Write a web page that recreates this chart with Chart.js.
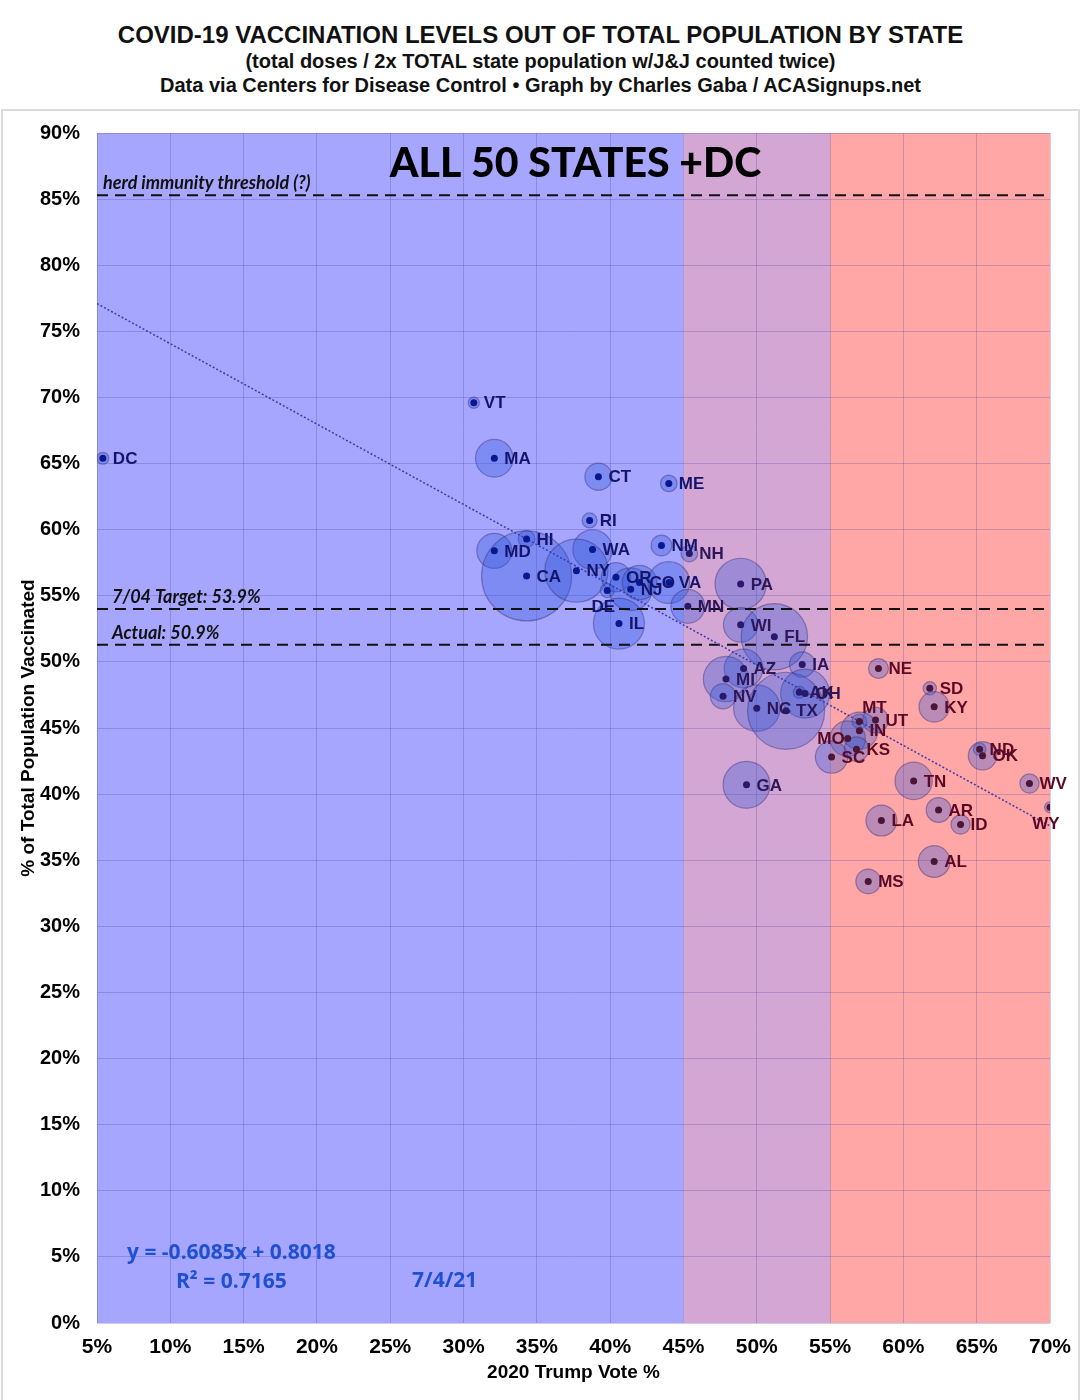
<!DOCTYPE html>
<html>
<head>
<meta charset="utf-8">
<script src="https://cdn.jsdelivr.net/npm/chart.js@4.4.0/dist/chart.umd.min.js"></script>
<style>
body{margin:0;background:#fff;width:1081px;height:1400px;overflow:hidden}
.t{position:absolute;left:0;width:1081px;text-align:center;font-family:'Liberation Sans Narrow','Liberation Sans',Arial,sans-serif;font-weight:bold;color:#111;white-space:nowrap}
#frame{position:absolute;left:1px;top:109px;width:1075px;height:1300px;border:2px solid #dcdcdc}
#c{position:absolute;left:0;top:0}
</style>
</head>
<body>
<div class="t" style="top:21px;font-size:24px;line-height:28px">COVID-19 VACCINATION LEVELS OUT OF TOTAL POPULATION BY STATE</div>
<div class="t" style="top:50px;font-size:20px;line-height:22px">(total doses / 2x TOTAL state population w/J&amp;J counted twice)</div>
<div class="t" style="top:74px;font-size:20px;line-height:22px">Data via Centers for Disease Control • Graph by Charles Gaba / ACASignups.net</div>
<div id="frame"></div>
<canvas id="c" width="1081" height="1400"></canvas>
<script>
const states=['DC','VT','MA','CT','ME','RI','HI','MD','WA','NM','NH','CA','NY','DE','OR','NJ','CO','VA','MN','IL','PA','WI','FL','IA','AZ','MI','OH','AK','NV','NC','TX','GA','NE','SD','KY','MT','UT','IN','MO','KS','SC','ND','OK','TN','WV','WY','AR','ID','LA','AL','MS'];
const trumpVote=[5.4,30.7,32.1,39.2,44.0,38.6,34.3,32.1,38.8,43.5,45.4,34.3,37.7,39.8,40.4,41.4,42.0,44.0,45.3,40.6,48.9,48.9,51.2,53.1,49.1,47.9,53.3,52.9,47.7,50.0,52.0,49.3,58.3,61.8,62.1,57.0,58.1,57.0,56.2,56.8,55.1,65.2,65.4,60.7,68.6,70.0,62.4,63.9,58.5,62.1,57.6];
const vaccinated=[65.4,69.6,65.4,64.0,63.5,60.7,59.3,58.4,58.5,58.8,58.2,56.5,56.9,55.4,56.4,55.5,56.0,56.0,54.2,52.9,55.9,52.8,51.9,49.8,49.5,48.7,47.6,47.7,47.4,46.5,46.3,40.7,49.5,48.0,46.6,45.5,45.6,44.8,44.2,43.4,42.8,43.4,42.9,41.0,40.8,39.0,38.8,37.7,38.0,34.9,33.4];
// population in millions, sets bubble area
const population=[0.7,0.62,6.9,3.6,1.35,1.1,1.4,6.0,7.6,2.1,1.36,39.5,19.5,0.97,4.2,8.9,5.8,8.5,5.6,12.7,12.8,5.8,21.5,3.15,7.3,10.0,11.7,0.73,3.1,10.5,29.0,10.7,1.93,0.88,4.5,1.07,3.2,6.7,6.1,2.9,5.1,0.76,3.95,6.8,1.8,0.58,3.0,1.8,4.65,4.9,2.97];
const trendX=[5,70];
const trendY=[77.1,37.6];
const refLevels=[85.3,54.0,51.3];
const refTexts=['herd immunity threshold (?)','7/04 Target: 53.9%','Actual: 50.9%'];
const zoneEdges=[5,45,55,70];
const zoneColors=['#a6a6ff','#d4a6d4','#ffa6a6'];

const labelPlace={MO:'left',DE:'below',WY:'below',MT:'above'};
const inkFor=v=>v<45?'#14146c':v<55?'#2c1658':'#5a0a26';
const dotFor=v=>v<45?'#0a1890':v<55?'#281a6a':'#4a1636';

const zones={id:'zones',beforeDraw(chart){
  const {ctx,chartArea:a,scales:{x}}=chart;
  ctx.save();
  for(let i=0;i<zoneColors.length;i++){
    const x0=x.getPixelForValue(zoneEdges[i]),x1=x.getPixelForValue(zoneEdges[i+1]);
    ctx.fillStyle=zoneColors[i];ctx.fillRect(x0,a.top,x1-x0,a.bottom-a.top);
  }
  ctx.restore();
}};

const texts={id:'texts',afterDatasetsDraw(chart){
  const {ctx,chartArea:a,scales:{x,y}}=chart;
  ctx.save();
  ctx.textBaseline='middle';
  // state labels
  ctx.font='bold 17px "Liberation Sans", Arial, sans-serif';
  states.forEach((s,i)=>{
    const px=x.getPixelForValue(trumpVote[i]),py=y.getPixelForValue(vaccinated[i]);
    const p=labelPlace[s]||'right';
    let tx=px+10,ty=py+1,al='left';
    if(p==='left'){tx=px-3;al='right';}
    if(p==='below'){tx=px-4;ty=py+17;al='center';}
    if(p==='above'){tx=px+15;ty=py-13;al='center';}
    ctx.textAlign=al;
    ctx.fillStyle=inkFor(x.getValueForPixel(tx));
    ctx.fillText(s,tx,ty);
  });
  // reference line captions
  ctx.textAlign='left';ctx.fillStyle='#111';
  ctx.font='italic bold 18px Lato, sans-serif';
  ctx.fillText(refTexts[0],a.left+6,y.getPixelForValue(refLevels[0])-12);
  ctx.fillText(refTexts[1],a.left+15,y.getPixelForValue(refLevels[1])-12);
  ctx.fillText(refTexts[2],a.left+15,y.getPixelForValue(refLevels[2])-12);
  // headline
  ctx.textAlign='center';ctx.fillStyle='#000';
  ctx.font='900 41px Lato, sans-serif';
  ctx.fillText('ALL 50 STATES +DC',(a.left+a.right)/2+2,a.top+31);
  // regression
  ctx.textAlign='left';ctx.fillStyle='#1f50d2';
  ctx.font='bold 21px "Open Sans", sans-serif';
  ctx.fillText('y = -0.6085x + 0.8018',a.left+30,a.bottom-70);
  ctx.fillText('R² = 0.7165',a.left+79,a.bottom-41);
  ctx.fillText('7/4/21',a.left+315,a.bottom-42);
  ctx.restore();
}};

const pts=states.map((s,i)=>({x:trumpVote[i],y:vaccinated[i]}));
const refSets=refLevels.map(v=>({type:'line',data:[{x:5,y:v},{x:70,y:v}],borderColor:'#111',borderWidth:2,borderDash:[11,7],pointRadius:0,order:1}));

new Chart(document.getElementById('c'),{
  type:'bubble',
  data:{datasets:[
    {type:'scatter',data:pts,pointRadius:3.5,pointBackgroundColor:trumpVote.map(dotFor),pointBorderWidth:0,order:0},
    {type:'line',data:trendX.map((v,i)=>({x:v,y:trendY[i]})),borderColor:'#3b3bb0',borderWidth:1.5,borderDash:[2,2],pointRadius:0,order:1},
    ...refSets,
    {data:pts.map((p,i)=>({x:p.x,y:p.y,r:45*Math.sqrt(population[i]/39.5)})),backgroundColor:'rgba(45,85,215,0.33)',borderColor:'rgba(60,50,120,0.45)',borderWidth:1.2,order:3}
  ]},
  options:{
    responsive:false,animation:false,devicePixelRatio:1,
    layout:{autoPadding:false,padding:{top:133,right:31,left:0,bottom:0}},
    plugins:{legend:{display:false},tooltip:{enabled:false}},
    scales:{
      x:{type:'linear',min:5,max:70,
        ticks:{stepSize:5,callback:v=>v+'%',color:'#000',padding:12,maxRotation:0,font:{family:'"Liberation Sans Narrow","Liberation Sans",Arial',weight:'bold',size:21}},
        grid:{color:'rgba(60,60,160,0.25)',drawTicks:false},border:{display:false},
        title:{display:true,text:'2020 Trump Vote %',color:'#000',padding:{top:2,bottom:16},font:{family:'"Liberation Sans", Arial',weight:'bold',size:19}},
        afterFit:s=>{s.height=77;s.paddingLeft=0;s.paddingRight=0;}},
      y:{min:0,max:90,
        ticks:{stepSize:5,callback:v=>v+'%',color:'#000',padding:17,font:{family:'"Liberation Sans", Arial',weight:'bold',size:20}},
        grid:{color:'rgba(60,60,160,0.25)',drawTicks:false},border:{display:false},
        title:{display:true,text:'% of Total Population Vaccinated',color:'#000',padding:{top:17,bottom:0},font:{family:'"Liberation Sans", Arial',weight:'bold',size:19}},
        afterFit:s=>{s.width=97;s.paddingTop=0;s.paddingBottom=0;}}
    }
  },
  plugins:[zones,texts]
});
</script>
</body>
</html>
